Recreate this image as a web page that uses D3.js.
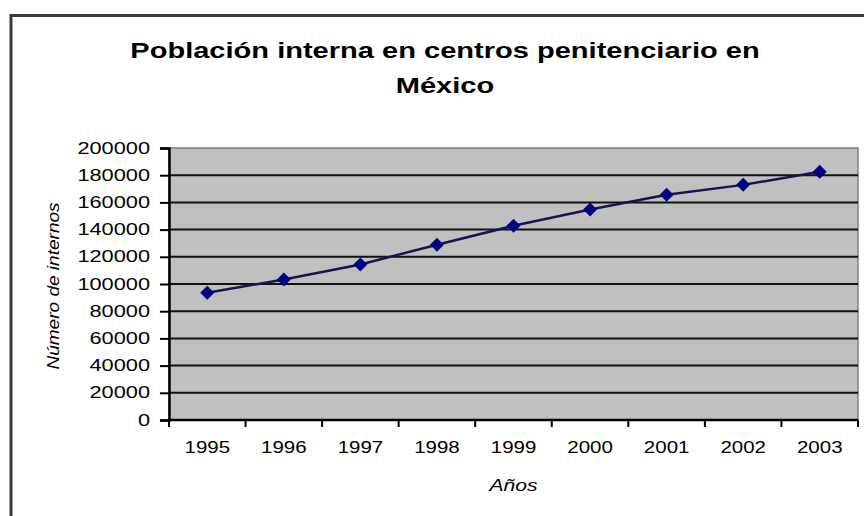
<!DOCTYPE html>
<html>
<head>
<meta charset="utf-8">
<script src="https://cdn.jsdelivr.net/npm/d3@7"></script>
<style>
  html, body { margin: 0; padding: 0; background: #ffffff; }
  svg { display: block; }
  text { font-family: "Liberation Sans", Arial, sans-serif; fill: #000; }
</style>
</head>
<body>
<svg id="chart" width="864" height="516"></svg>
<script>
const years = ["1995", "1996", "1997", "1998", "1999", "2000", "2001", "2002", "2003"];
const internos = [93574, 103262, 114341, 128902, 142800, 154765, 165687, 172888, 182530];
const yTicks = [0, 20000, 40000, 60000, 80000, 100000, 120000, 140000, 160000, 180000, 200000];
const titleLines = ["Población interna en centros penitenciario en", "México"];
const yTitle = "Número de internos";
const xTitle = "Años";

const svg = d3.select("#chart");
const W = 864, H = 516;
const plot = { left: 169, right: 858, top: 148, bottom: 420 };
const SX = 1.32; // horizontal stretch of the source picture

function stretch(sel, f) {
  sel.each(function () {
    const w = this.getComputedTextLength();
    this.setAttribute("textLength", w * f);
    this.setAttribute("lengthAdjust", "spacingAndGlyphs");
  });
}

svg.append("rect").attr("width", W).attr("height", H).attr("fill", "#fff");

// outer chart frame (right/bottom edges fall outside the window)
svg.append("rect")
  .attr("x", 11).attr("y", 15.5)
  .attr("width", 880).attr("height", 530)
  .attr("fill", "none").attr("stroke", "#3c3c3c").attr("stroke-width", 3);

const x = d3.scaleBand().domain(years).range([plot.left, plot.right]);
const xi = d3.scaleLinear().domain([0, years.length]).range([plot.left, plot.right]);
const y = d3.scaleLinear().domain([0, 200000]).range([plot.bottom, plot.top]);

// plot area
svg.append("rect")
  .attr("x", plot.left).attr("y", plot.top)
  .attr("width", plot.right - plot.left).attr("height", plot.bottom - plot.top)
  .attr("fill", "#c0c0c0").attr("stroke", "#808080").attr("stroke-width", 1.5);

// gridlines
svg.append("g").selectAll("line")
  .data(yTicks.filter(v => v > 0 && v < 200000))
  .join("line")
  .attr("x1", plot.left).attr("x2", plot.right)
  .attr("y1", d => y(d)).attr("y2", d => y(d))
  .attr("stroke", "#111").attr("stroke-width", 2);

// y axis
const yAxis = svg.append("g")
  .attr("transform", `translate(${plot.left},0)`)
  .call(d3.axisLeft(y).tickValues(yTicks).tickFormat(d3.format("d")).tickSize(9).tickPadding(10));
yAxis.select(".domain").attr("stroke", "#000").attr("stroke-width", 2.5);
yAxis.selectAll(".tick line").attr("stroke", "#000").attr("stroke-width", 2);
yAxis.selectAll("text").attr("font-size", 16).attr("fill", "#000")
  .attr("font-family", "'Liberation Sans', Arial, sans-serif");
stretch(yAxis.selectAll("text"), 1.36);

// x axis labels
const xAxis = svg.append("g")
  .attr("transform", `translate(0,${plot.bottom})`)
  .call(d3.axisBottom(x).tickSize(0).tickPadding(22));
xAxis.select(".domain").remove();
xAxis.selectAll("text").attr("font-size", 16).attr("fill", "#000")
  .attr("font-family", "'Liberation Sans', Arial, sans-serif");
stretch(xAxis.selectAll("text"), 1.28);

// x axis line and ticks between categories
svg.append("line")
  .attr("x1", plot.left).attr("x2", plot.right)
  .attr("y1", plot.bottom).attr("y2", plot.bottom)
  .attr("stroke", "#000").attr("stroke-width", 2.5);
svg.append("g").selectAll("line")
  .data(d3.range(years.length + 1))
  .join("line")
  .attr("x1", d => xi(d)).attr("x2", d => xi(d))
  .attr("y1", plot.bottom).attr("y2", plot.bottom + 7)
  .attr("stroke", "#000").attr("stroke-width", 2);

// data line
const pts = years.map((yr, i) => [x(yr) + x.bandwidth() / 2, y(internos[i])]);
svg.append("path")
  .attr("d", d3.line()(pts))
  .attr("fill", "none").attr("stroke", "#16164e").attr("stroke-width", 2.5);

// diamond markers
svg.append("g").selectAll("path")
  .data(pts)
  .join("path")
  .attr("d", d3.symbol().type(d3.symbolSquare).size(98))
  .attr("transform", d => `translate(${d[0]},${d[1]}) rotate(45)`)
  .attr("fill", "#000080");

// title
const tg = svg.append("g");
const t1 = tg.append("text").attr("x", 445).attr("y", 58)
  .attr("text-anchor", "middle").attr("font-size", 22).attr("font-weight", "bold")
  .text(titleLines[0]);
const t2 = tg.append("text").attr("x", 445).attr("y", 93)
  .attr("text-anchor", "middle").attr("font-size", 22).attr("font-weight", "bold")
  .text(titleLines[1]);
stretch(t1, SX);
stretch(t2, SX);

// axis titles
const yt = svg.append("text")
  .attr("transform", `translate(59,286) rotate(-90)`)
  .attr("text-anchor", "middle").attr("font-size", 17).attr("font-style", "italic")
  .text(yTitle);
stretch(yt, 1.12);

const xt = svg.append("text")
  .attr("x", (plot.left + plot.right) / 2).attr("y", 491)
  .attr("text-anchor", "middle").attr("font-size", 16).attr("font-style", "italic")
  .text(xTitle);
stretch(xt, SX);
</script>
</body>
</html>
